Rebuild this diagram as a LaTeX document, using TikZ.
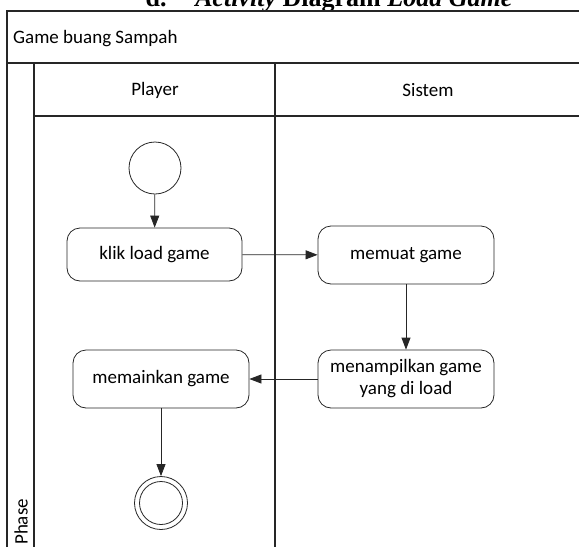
\documentclass[tikz,border=0pt]{standalone}
\usepackage{fontspec}
\setmainfont{Carlito}
\newfontfamily\titlefont{Liberation Serif}
\usetikzlibrary{arrows.meta}
\begin{document}
\begin{tikzpicture}[x=1pt,y=-1pt,
  lane/.style={draw=black!85, line width=1.2pt},
  act/.style={draw=black!85, line width=0.8pt, rounded corners=13pt, align=center,
    inner sep=0pt, font=\fontsize{19}{22}\selectfont},
  flow/.style={draw=black!85, line width=0.8pt, -{Triangle[length=12pt,width=9pt]}},
  lbl/.style={font=\fontsize{19}{22}\selectfont, inner sep=0pt}]
\useasboundingbox (0,0) rectangle (579,547);
% heading above the frame
\node[anchor=base, inner sep=0pt, font=\titlefont\bfseries\fontsize{26}{28}\selectfont]
  (title) at (329,6) {d.\hspace{1.1em}\textit{Activity} Diagram \textit{Load Game}};
% frame and swimlanes
\draw[lane] (7,547) -- (7,11) -- (579,11);
\draw[lane] (7,63) -- (579,63);
\draw[lane] (34,116) -- (579,116);
\draw[lane] (34,63) -- (34,547);
\draw[lane] (275,63) -- (275,547);
\node[lbl, anchor=west] (diag) at (13,39) {Game buang Sampah};
\node[lbl] (player) at (155,90) {Player};
\node[lbl] (sistem) at (428,90) {Sistem};
\node[lbl, rotate=90, anchor=west] (phase) at (21,545) {Phase};
% activities
\node[draw=black!85, line width=0.8pt, circle, minimum size=52pt, inner sep=0pt] (start) at (155,168) {};
\node[act, minimum width=175pt, minimum height=53pt] (klik) at (154.5,254.5) {klik load game};
\node[act, minimum width=176pt, minimum height=58pt] (muat) at (406,255) {memuat game};
\node[act, minimum width=176pt, minimum height=58pt] (tampil) at (406,379) {menampilkan game\\yang di load};
\node[act, minimum width=176pt, minimum height=58pt] (main) at (161,379) {memainkan game};
\node[draw=black!85, line width=0.8pt, circle, minimum size=53pt, inner sep=0pt] (stop) at (161,503) {};
\node[draw=black!85, line width=0.8pt, circle, minimum size=43pt, inner sep=0pt] (stopin) at (stop) {};
% control flow
\draw[flow] (start) -- (klik);
\draw[flow] (klik) -- (muat);
\draw[flow] (muat) -- (tampil);
\draw[flow] (tampil) -- (main);
\draw[flow] (main) -- (stop);
\end{tikzpicture}
\end{document}
